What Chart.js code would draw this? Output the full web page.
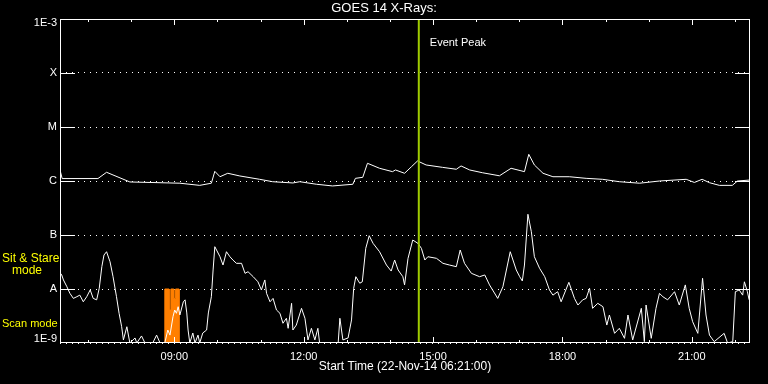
<!DOCTYPE html>
<html>
<head>
<meta charset="utf-8">
<script src="https://cdn.jsdelivr.net/npm/chart.js@4/dist/chart.umd.min.js"></script>
<style>
  html, body { margin: 0; padding: 0; background: #000; }
  canvas { display: block; }
</style>
</head>
<body>
<canvas id="chart" width="768" height="384"></canvas>
<script>
// times are decimal hours of 22-Nov-14, flux in W/m^2
const longTime = [6.35, 6.40, 7.23, 7.43, 7.97, 9.13, 9.59, 9.86, 9.94, 10.06, 10.24, 10.52, 10.98, 11.28, 11.75, 11.91,
  12.30, 12.67, 13.14, 13.20, 13.37, 13.48, 13.76, 14.06, 14.13, 14.34, 14.50, 14.64, 14.84, 15.22, 15.54, 15.65,
  15.85, 16.15, 16.54, 16.81, 17.12, 17.22, 17.35, 17.55, 17.78, 18.16, 18.55, 18.93, 19.32, 19.79, 20.25, 20.87,
  21.06, 21.24, 21.41, 21.64, 21.94, 22.06, 22.33];
const longFlux = [1.6e-6, 1.11e-6, 1.11e-6, 1.45e-6, 9.6e-7, 9.1e-7, 8.3e-7, 9.1e-7, 1.51e-6, 1.2e-6, 1.39e-6, 1.24e-6, 1.075e-6, 9.7e-7, 9.2e-7, 9.7e-7,
  8.7e-7, 8.1e-7, 8.7e-7, 1.12e-6, 1.17e-6, 2.13e-6, 1.72e-6, 1.49e-6, 1.6e-6, 1.39e-6, 1.84e-6, 2.35e-6, 1.98e-6, 1.79e-6, 1.65e-6, 1.9e-6,
  1.6e-6, 1.42e-6, 1.25e-6, 1.72e-6, 1.49e-6, 3.12e-6, 1.98e-6, 1.39e-6, 1.2e-6, 1.2e-6, 1.12e-6, 1.075e-6, 9.7e-7, 9.1e-7, 1.0e-6, 1.075e-6,
  9.4e-7, 1.075e-6, 9.3e-7, 8.3e-7, 8.3e-7, 1.0e-6, 1.04e-6];

const shortTime = [6.35, 6.39, 6.43, 6.51, 6.58, 6.66, 6.74, 6.81, 6.89, 6.97, 7.05, 7.12, 7.20, 7.26, 7.32, 7.37,
  7.43, 7.51, 7.58, 7.66, 7.72, 7.78, 7.82, 7.90, 7.97, 8.09, 8.13, 8.24, 8.32, 8.50, 8.59, 8.67,
  8.78, 8.85, 8.90, 8.97, 9.01, 9.05, 9.09, 9.13, 9.21, 9.25, 9.29, 9.32, 9.36, 9.43, 9.48, 9.55,
  9.59, 9.66, 9.75, 9.79, 9.86, 9.90, 9.94, 9.98, 10.06, 10.13, 10.21, 10.29, 10.36, 10.44, 10.56, 10.64,
  10.71, 10.83, 10.94, 11.02, 11.10, 11.14, 11.22, 11.29, 11.37, 11.45, 11.52, 11.60, 11.64, 11.72, 11.75, 11.83,
  11.95, 12.03, 12.10, 12.18, 12.26, 12.33, 12.37, 12.61, 12.80, 12.84, 12.91, 13.03, 13.11, 13.16, 13.21, 13.30,
  13.36, 13.44, 13.52, 13.61, 13.76, 13.92, 14.03, 14.11, 14.19, 14.30, 14.34, 14.42, 14.53, 14.65, 14.73, 14.81,
  14.88, 15.08, 15.23, 15.38, 15.54, 15.63, 15.73, 15.89, 16.08, 16.20, 16.31, 16.50, 16.62, 16.79, 16.93, 17.01,
  17.07, 17.12, 17.20, 17.28, 17.35, 17.47, 17.59, 17.70, 17.78, 17.89, 17.97, 18.15, 18.28, 18.36, 18.47, 18.55,
  18.63, 18.70, 18.82, 18.94, 19.03, 19.09, 19.21, 19.32, 19.44, 19.52, 19.63, 19.83, 19.90, 19.94, 20.06, 20.17,
  20.25, 20.33, 20.44, 20.60, 20.71, 20.85, 20.94, 21.02, 21.14, 21.25, 21.33, 21.41, 21.52, 21.75, 21.83, 21.95,
  22.01, 22.10, 22.18, 22.22, 22.29, 22.33];
const shortFlux = [2.0e-8, 1.82e-8, 1.47e-8, 1.1e-8, 8.3e-9, 6.7e-9, 7.2e-9, 7.7e-9, 5.8e-9, 7.2e-9, 9.6e-9, 6.7e-9, 6.3e-9, 1.03e-8, 2.59e-8, 4.26e-8,
  4.9e-8, 3.2e-8, 1.69e-8, 7.2e-9, 3.55e-9, 2.0e-9, 1.14e-9, 2.0e-9, 1.0e-9, 1.24e-9, 1.0e-9, 1.35e-9, 1.0e-9, 1.0e-9, 1.4e-9, 1.0e-9,
  1.0e-9, 1.74e-9, 1.4e-9, 3.07e-9, 4.08e-9, 3.55e-9, 4.7e-9, 3.3e-9, 5.8e-9, 6.3e-9, 3.6e-9, 1.74e-9, 1.0e-9, 1.53e-9, 1.0e-9, 1.4e-9,
  1.0e-9, 1.53e-9, 1.74e-9, 3.6e-9, 7.2e-9, 2.25e-8, 6.07e-8, 5.27e-8, 3.96e-8, 2.78e-8, 4.9e-8, 3.96e-8, 3.44e-8, 2.99e-8, 2.99e-8, 1.95e-8,
  2.09e-8, 1.69e-8, 1.36e-8, 9.6e-9, 1.47e-8, 8.3e-9, 5.8e-9, 6.7e-9, 4.08e-9, 3.55e-9, 2.32e-9, 2.87e-9, 1.87e-9, 5.43e-9, 1.74e-9, 2.15e-9,
  4.39e-9, 2.87e-9, 1.14e-9, 1.87e-9, 1.14e-9, 1.87e-9, 1.0e-9, 1.0e-9, 1.0e-9, 2.87e-9, 1.14e-9, 1.24e-9, 2.67e-9, 1.03e-8, 1.69e-8, 1.28e-8,
  1.36e-8, 5.67e-8, 9.7e-8, 7.0e-8, 4.9e-8, 2.78e-8, 2.15e-8, 3.44e-8, 2.25e-8, 1.69e-8, 1.19e-8, 3.7e-8, 8.07e-8, 7.0e-8, 5.67e-8, 3.44e-8,
  3.96e-8, 3.7e-8, 2.99e-8, 2.78e-8, 2.59e-8, 5.27e-8, 2.99e-8, 1.95e-8, 1.69e-8, 1.82e-8, 1.19e-8, 6.7e-9, 1.1e-8, 4.9e-8, 2.25e-8, 1.69e-8,
  1.41e-8, 2.78e-8, 2.42e-7, 1.15e-7, 3.96e-8, 2.42e-8, 1.69e-8, 9.6e-9, 7.7e-9, 8.9e-9, 5.8e-9, 1.33e-8, 6.7e-9, 5.05e-9, 6.3e-9, 6.7e-9,
  1.03e-8, 4.39e-9, 5.43e-9, 4.7e-9, 2.15e-9, 3.3e-9, 1.51e-9, 1.87e-9, 1.22e-9, 3.3e-9, 1.14e-9, 4.39e-9, 1.06e-9, 5.05e-9, 1.22e-9, 4.39e-9,
  8.3e-9, 7.2e-9, 6.3e-9, 8.9e-9, 5.05e-9, 1.19e-8, 4.39e-9, 2.48e-9, 1.51e-9, 1.58e-8, 3.3e-9, 1.4e-9, 1.06e-9, 1.51e-9, 1.0e-9, 1.06e-9,
  8.9e-9, 9.6e-9, 7.7e-9, 1.36e-8, 8.9e-9, 6.3e-9];

// scan mode block outline (top edge, filled down to the axis)
const scanTime = [8.78, 8.78, 8.88, 8.88, 8.92, 8.92, 8.99, 8.99, 9.03, 9.03, 9.11, 9.11];
const scanTop = [1e-9, 1e-8, 1e-8, 4.1e-9, 4.1e-9, 1e-8, 1e-8, 6.7e-9, 6.7e-9, 1e-8, 1e-8, 1e-9];

const eventTime = 14.67;

const hourTicks = [7, 8, 9, 10, 11, 12, 13, 14, 15, 16, 17, 18, 19, 20, 21, 22];
const labelHours = [9, 12, 15, 18, 21];
const labelText = ["09:00", "12:00", "15:00", "18:00", "21:00"];

const levelValues = [1e-9, 1e-8, 1e-7, 1e-6, 1e-5, 1e-4, 1e-3];
const levelLabels = ["1E-9", "A", "B", "C", "M", "X", "1E-3"];

const chartTitle = "GOES 14 X-Rays:";
const startLabel = "Start Time (22-Nov-14 06:21:00)";

const FONT = "'Liberation Sans', Arial, sans-serif";

const toPoints = (xs, ys) => xs.map((x, i) => ({ x: x, y: ys[i] }));

const decorations = {
  id: "decorations",
  beforeDraw(chart) {
    const ctx = chart.ctx;
    ctx.save();
    ctx.fillStyle = "#000";
    ctx.fillRect(0, 0, chart.width, chart.height);
    ctx.restore();
  },
  afterDatasetsDraw(chart) {
    const { ctx, chartArea: a, scales } = chart;
    const x = scales.x, y = scales.y;
    ctx.save();
    ctx.strokeStyle = "#fff";
    ctx.lineWidth = 1;
    ctx.strokeRect(a.left + 0.5, a.top + 0.5, a.right - a.left - 1, a.bottom - a.top - 1);

    ctx.beginPath();
    levelValues.slice(1, -1).forEach(v => {
      const py = Math.round(y.getPixelForValue(v)) + 0.5;
      ctx.moveTo(a.left, py); ctx.lineTo(a.left + 15, py);
      ctx.moveTo(a.right - 15, py); ctx.lineTo(a.right, py);
    });
    hourTicks.forEach(h => {
      const px = Math.round(x.getPixelForValue(h)) + 0.5;
      const len = labelHours.includes(h) ? 6 : 3;
      ctx.moveTo(px, a.top); ctx.lineTo(px, a.top + len);
      ctx.moveTo(px, a.bottom); ctx.lineTo(px, a.bottom - len);
    });
    ctx.stroke();

    ctx.fillStyle = "#fff";
    ctx.textBaseline = "middle";
    ctx.textAlign = "center";
    ctx.font = "13px " + FONT;
    ctx.fillText(chartTitle, chart.width / 2, 8);

    ctx.font = "11px " + FONT;
    ctx.textAlign = "left";
    ctx.fillText("Event Peak", x.getPixelForValue(eventTime) + 11, 43);

    ctx.fillStyle = "#ffff00";
    ctx.font = "12px " + FONT;
    ctx.fillText("Sit & Stare", 2, 259);
    ctx.fillText("mode", 12, 271);
    ctx.font = "11px " + FONT;
    ctx.fillText("Scan mode", 2, 324);
    ctx.restore();
  }
};

new Chart(document.getElementById("chart"), {
  type: "line",
  data: {
    datasets: [
      {
        label: "Event Peak",
        data: [{ x: eventTime, y: levelValues[0] }, { x: eventTime, y: levelValues[levelValues.length - 1] }],
        borderColor: "#9fcb00",
        borderWidth: 2,
        pointRadius: 0,
        order: 0
      },
      {
        label: "1-8 A",
        data: toPoints(longTime, longFlux),
        borderColor: "#fff",
        borderWidth: 1,
        pointRadius: 0,
        order: 1
      },
      {
        label: "0.5-4 A",
        data: toPoints(shortTime, shortFlux),
        borderColor: "#fff",
        borderWidth: 1,
        pointRadius: 0,
        order: 1
      },
      {
        label: "Scan mode",
        data: toPoints(scanTime, scanTop),
        fill: "start",
        backgroundColor: "#ff7f00",
        borderColor: "#ff7f00",
        borderWidth: 1,
        pointRadius: 0,
        order: 2
      }
    ]
  },
  options: {
    responsive: false,
    animation: false,
    events: [],
    layout: {
      padding: { top: 19, right: 18, left: 0, bottom: 0 }
    },
    plugins: {
      legend: { display: false },
      tooltip: { enabled: false }
    },
    scales: {
      x: {
        type: "linear",
        min: 6.35,
        max: 22.35,
        afterBuildTicks: scale => {
          scale.ticks = hourTicks.map(h => ({ value: h }));
        },
        afterFit: scale => {
          scale.height = 41;
        },
        ticks: {
          autoSkip: false,
          maxRotation: 0,
          padding: 7,
          color: "#fff",
          font: { family: FONT, size: 11 },
          callback: value => {
            const i = labelHours.indexOf(value);
            return i >= 0 ? labelText[i] : "";
          }
        },
        grid: { display: false, drawTicks: false },
        border: { display: false },
        title: {
          display: true,
          text: startLabel,
          color: "#fff",
          font: { family: FONT, size: 12 },
          padding: { top: 0, bottom: 10 }
        }
      },
      y: {
        type: "logarithmic",
        min: 1e-9,
        max: 1e-3,
        afterBuildTicks: scale => {
          scale.ticks = levelValues.map(v => ({ value: v }));
        },
        afterFit: scale => {
          scale.width = 60;
        },
        ticks: {
          padding: 3,
          color: "#fff",
          font: { family: FONT, size: 11, lineHeight: 0.75 },
          callback: (value, index) => {
            const label = levelLabels[index];
            if (index === 0) return [label, ""];
            if (index === levelLabels.length - 1) return ["", label];
            return label;
          }
        },
        grid: {
          drawTicks: false,
          color: "#fff",
          lineWidth: 1
        },
        border: { display: false, dash: [1, 5] }
      }
    }
  },
  plugins: [decorations]
});
</script>
</body>
</html>
